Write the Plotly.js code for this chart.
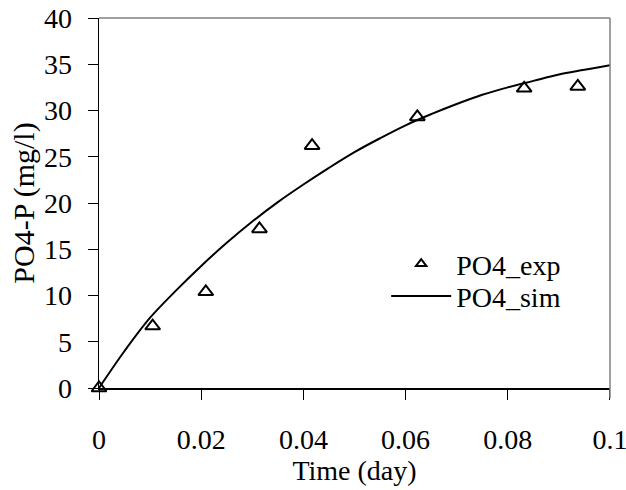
<!DOCTYPE html>
<html>
<head>
<meta charset="utf-8">
<script src="https://cdn.plot.ly/plotly-3.0.1.min.js"></script>
<style>html,body{margin:0;padding:0;background:#fff;}#chart{width:626px;height:490px;}</style>
</head>
<body>
<div id="chart"></div>
<script>
// Experimental data
var expTime = [0, 0.0105, 0.0209, 0.0314, 0.0417, 0.0623, 0.0832, 0.0937];
var expPO4 = [0, 6.7, 10.4, 17.2, 26.2, 29.3, 32.4, 32.6];
// Simulated curve
var simTime = [0, 0.005, 0.01, 0.015, 0.02, 0.025, 0.03, 0.035, 0.04, 0.045, 0.05, 0.055, 0.06, 0.065, 0.07, 0.075, 0.08, 0.085, 0.09, 0.095, 0.1, 0.102];
var simPO4 = [0, 4.0, 7.6, 10.5, 13.2, 15.7, 18.0, 20.1, 22.0, 23.8, 25.5, 27.0, 28.4, 29.6, 30.7, 31.7, 32.5, 33.2, 33.9, 34.4, 34.9, 35.1];
var xTicks = [0, 0.02, 0.04, 0.06, 0.08, 0.1];
var xTickText = ['0', '0.02', '0.04', '0.06', '0.08', '0.1'];
var yTicks = [0, 5, 10, 15, 20, 25, 30, 35, 40];

var font = {family: 'Liberation Serif, Times New Roman, serif', size: 28, color: '#000'};
var titleFont = {family: 'Liberation Serif, Times New Roman, serif', size: 30, color: '#000'};

var traces = [
  {x: expTime, y: expPO4, name: 'PO4_exp', mode: 'markers', type: 'scatter', showlegend: false,
   marker: {symbol: 'triangle-up-open', size: 13, color: '#000', line: {width: 2, color: '#000'}},
   cliponaxis: false},
  {x: [null], y: [null], name: 'PO4_exp', mode: 'markers', type: 'scatter', legend: 'legend',
   marker: {symbol: 'triangle-up-open', size: 9, color: '#000', line: {width: 2, color: '#000'}}},
  {x: simTime, y: simPO4, name: 'PO4_sim', mode: 'lines', type: 'scatter', legend: 'legend2',
   line: {color: '#000', width: 2, shape: 'spline'}}
];

var legendBase = {xanchor: 'left', yanchor: 'middle', bgcolor: 'rgba(0,0,0,0)', font: font, itemwidth: 60};

var layout = {
  width: 626, height: 490,
  margin: {l: 99, r: 16, t: 18, b: 102},
  paper_bgcolor: '#fff', plot_bgcolor: '#fff',
  font: font,
  showlegend: true,
  legend: Object.assign({}, legendBase, {x: 0.562, y: 0.335}),
  legend2: Object.assign({}, legendBase, {x: 0.562, y: 0.248}),
  xaxis: {
    range: [-0.000001, 0.100001], tickvals: xTicks, ticktext: xTickText,
    showgrid: false, zeroline: false, showline: true, linecolor: '#000', linewidth: 1.5,
    ticks: 'outside', ticklen: 10, tickcolor: '#000', tickwidth: 1,
    ticklabelstandoff: 16, ticklabeloverflow: 'allow', tickfont: font,
    title: {text: 'Time (day)', font: font, standoff: 2}
  },
  yaxis: {
    range: [0, 40], tickvals: yTicks,
    showgrid: false, zeroline: false, showline: true, linecolor: '#000', linewidth: 1.5,
    ticks: 'outside', ticklen: 10, tickcolor: '#000', tickwidth: 1,
    ticklabelstandoff: 10, tickfont: font,
    title: {text: 'PO4-P (mg/l)', font: titleFont, standoff: 0}
  },
  shapes: [
    {type: 'line', xref: 'paper', yref: 'paper', x0: 0, x1: 1, y0: 1, y1: 1, line: {color: '#808080', width: 1.5}},
    {type: 'line', xref: 'paper', yref: 'paper', x0: 1, x1: 1, y0: -0.027, y1: 1, line: {color: '#808080', width: 1.5}}
  ]
};

Plotly.newPlot('chart', traces, layout, {staticPlot: true});
</script>
</body>
</html>
